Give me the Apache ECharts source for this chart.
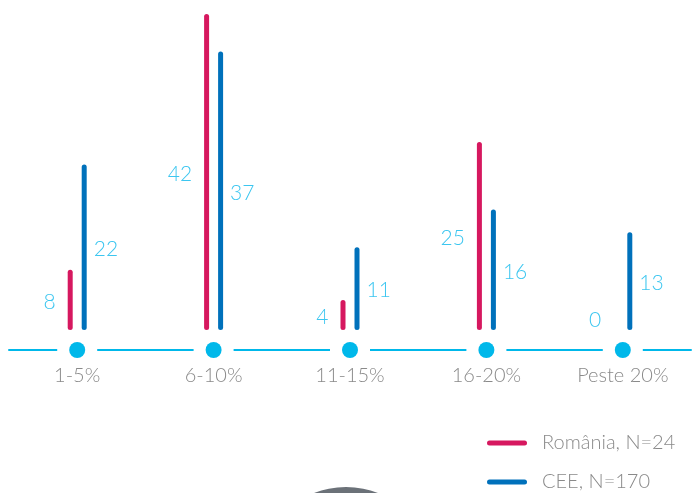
<!DOCTYPE html>
<html>
<head>
<meta charset="utf-8">
<script src="https://cdn.jsdelivr.net/npm/echarts@6/dist/echarts.min.js"></script>
<style>
  html, body { margin: 0; padding: 0; background: #ffffff; }
  #chart { width: 699px; height: 493px; }
</style>
</head>
<body>
<div id="chart"></div>
<script>
// Categories (share ranges) and values per group
var categories = ['1-5%', '6-10%', '11-15%', '16-20%', 'Peste 20%'];
var romaniaValues = [8, 42, 4, 25, 0];
var ceeValues = [22, 37, 11, 16, 13];
var seriesNames = ['România, N=24', 'CEE, N=170'];

var PINK = '#d6185f';
var BLUE = '#0071bb';
var CYAN = '#00b8ea';
var LABEL_CYAN = '#3cc6f0';
var FONT = 'Lato, "Open Sans", sans-serif';

// value axis extends below zero so the category line sits under the bars
var AXIS_BASE = -2.66;

var chart = echarts.init(document.getElementById('chart'), null, { renderer: 'canvas' });

function barData(values, zeroOffset) {
  return values.map(function (v) {
    if (v === 0) {
      return { value: v, label: { offset: zeroOffset } };
    }
    return v;
  });
}

function legendFor(name, top) {
  return {
    orient: 'vertical',
    left: 487,
    top: top,
    padding: 0,
    itemWidth: 40,
    itemHeight: 5,
    icon: 'path://M2.5,0 H37.5 A2.5,2.5 0 0 1 37.5,5 H2.5 A2.5,2.5 0 0 1 2.5,0 Z',
    data: [name],
    textStyle: {
      color: '#8a8a8a',
      fontFamily: FONT,
      fontWeight: 300,
      fontSize: 20,
      padding: [0, 0, 0, 10]
    }
  };
}

var labelBase = {
  show: true,
  color: LABEL_CYAN,
  fontFamily: FONT,
  fontWeight: 300,
  fontSize: 21,
  offset: [0, 2]
};

var option = {
  animation: false,
  backgroundColor: '#ffffff',
  grid: { left: 9, right: 8, top: 14, bottom: 143 },
  legend: [legendFor(seriesNames[0], 433), legendFor(seriesNames[1], 472)],
  xAxis: {
    type: 'category',
    data: categories,
    boundaryGap: true,
    axisLine: { onZero: false, lineStyle: { color: CYAN, width: 2 } },
    axisTick: { show: false },
    axisLabel: {
      margin: 16,
      color: '#8a8a8a',
      fontFamily: FONT,
      fontWeight: 300,
      fontSize: 20
    },
    splitLine: { show: false }
  },
  yAxis: {
    type: 'value',
    min: AXIS_BASE,
    max: 42,
    show: false,
    splitLine: { show: false }
  },
  series: [
    {
      name: seriesNames[0],
      type: 'bar',
      data: barData(romaniaValues, [0, -10]),
      barWidth: 5,
      barGap: '180%',
      itemStyle: { color: PINK, borderRadius: 2.5 },
      label: Object.assign({}, labelBase, { position: 'left', distance: 12 })
    },
    {
      name: seriesNames[1],
      type: 'bar',
      data: barData(ceeValues, [0, -10]),
      barWidth: 5,
      itemStyle: { color: BLUE, borderRadius: 2.5 },
      label: Object.assign({}, labelBase, { position: 'right', distance: 7 })
    },
    {
      // white gap that breaks the axis line around each marker
      type: 'scatter',
      data: categories.map(function () { return AXIS_BASE; }),
      symbol: 'rect',
      symbolSize: [40, 6],
      itemStyle: { color: '#ffffff', opacity: 1 },
      silent: true,
      z: 3
    },
    {
      type: 'scatter',
      data: categories.map(function () { return AXIS_BASE; }),
      symbol: 'circle',
      symbolSize: 16,
      itemStyle: { color: CYAN, opacity: 1 },
      silent: true,
      z: 4
    }
  ],
  graphic: [
    {
      type: 'circle',
      shape: { cx: 346, cy: 575, r: 88 },
      style: { fill: '#6b7178' },
      silent: true
    }
  ]
};

chart.setOption(option);
</script>
</body>
</html>
